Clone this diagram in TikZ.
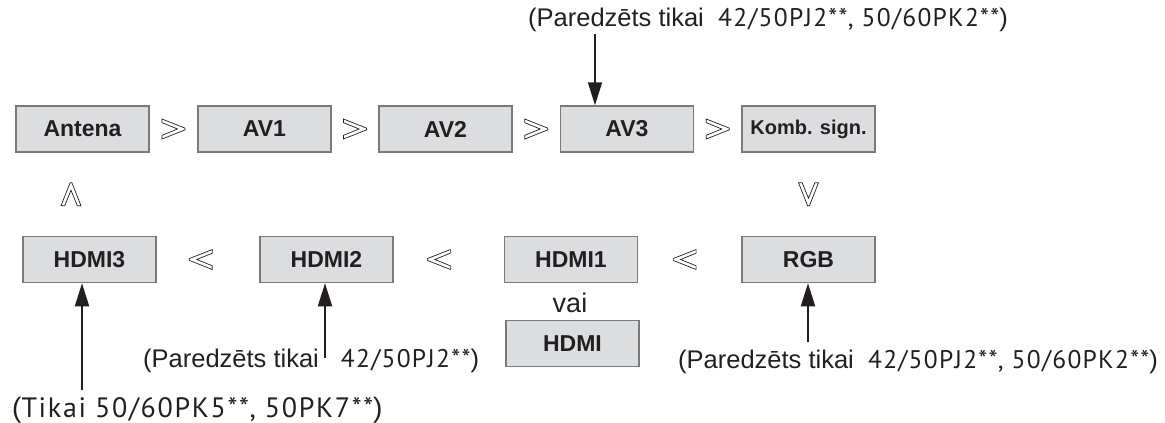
\documentclass[tikz,border=0pt]{standalone}
\usepackage{fontspec}
\setmainfont{Liberation Sans}
\newfontfamily\modelfont[LetterSpace=5]{PT Sans}
\newfontfamily\widemodelfont[LetterSpace=6]{PT Sans}
\usetikzlibrary{arrows.meta}
\definecolor{boxfill}{HTML}{DCDDDF}
\definecolor{boxline}{HTML}{7A7A7A}
\definecolor{ink}{HTML}{231F20}
\tikzset{
  srcbox/.style={draw=boxline, fill=boxfill, line width=1.5pt, minimum width=133pt,
    minimum height=46pt, inner sep=0pt, text=ink, font=\fontsize{23}{23}\selectfont\bfseries},
  pointer/.style={-{Triangle[length=23pt,width=14pt]}, line width=2pt, draw=ink},
  note/.style={inner sep=0pt, anchor=base west, text=ink, font=\fontsize{25.5}{25.5}\selectfont},
  chev/.pic={
    \draw[ink, line width=0.7pt, fill=white]
      (-11.5,-10) -- (11.5,-0.9) -- (11.5,0.9) -- (-11.5,10) -- (-11.5,6.3) -- (4,0) -- (-11.5,-6.3) -- cycle;
  },
}
\begin{document}
\begin{tikzpicture}[x=1pt, y=-1pt]
    \useasboundingbox (0,0) rectangle (1165,423);
    % top row
    \node[srcbox] (ant)  at (82.5,129) {Antena};
    \node[srcbox] (av1)  at (264.5,129) {AV1};
    \node[srcbox] (av2)  at (445.5,129) {AV2};
    \node[srcbox] (av3)  at (627,129) {AV3};
    \node[srcbox, font=\fontsize{20}{20}\selectfont\bfseries] (komb) at (808.5,129) {Komb. sign.};
    % bottom row
    \node[srcbox] (hdmi3) at (89.5,259.5) {HDMI3};
    \node[srcbox] (hdmi2) at (326.5,259.5) {HDMI2};
    \node[srcbox] (hdmi1) at (571,259.5) {HDMI1};
    \node[srcbox] (rgb)   at (808.5,259.5) {RGB};
    \node[inner sep=0pt, anchor=base, text=ink, font=\fontsize{27}{27}\selectfont] (vai) at (570,312) {vai};
    \node[srcbox] (hdmi)  at (572.5,343.5) {HDMI};
    % order of sources
    \path (ant.east) -- (av1.west) pic[midway, sloped, allow upside down] {chev};
    \path (av1.east) -- (av2.west) pic[midway, sloped, allow upside down] {chev};
    \path (av2.east) -- (av3.west) pic[midway, sloped, allow upside down] {chev};
    \path (av3.east) -- (komb.west) pic[midway, sloped, allow upside down] {chev};
    \path (komb.south) -- (rgb.north) pic[midway, sloped, allow upside down] {chev};
    \path (rgb.west) -- (hdmi1.east) pic[pos=0.55, sloped, allow upside down] {chev};
    \path (hdmi1.west) -- (hdmi2.east) pic[pos=0.59, sloped, allow upside down] {chev};
    \path (hdmi2.west) -- (hdmi3.east) pic[pos=0.57, sloped, allow upside down] {chev};
    \path ([xshift=-18.5pt]hdmi3.north) -- ([xshift=-11.5pt]ant.south) pic[midway, sloped, allow upside down] {chev};
    % notes
    \node[note] (n3) at (528,27) {(Paredzēts tikai\ \ {\modelfont 42/50PJ2**, 50/60PK2**})};
    \node[note] (nrgb) at (678,368) {(Paredzēts tikai\ \ {\modelfont 42/50PJ2**, 50/60PK2**})};
    \node[note] (nh2) at (143,367) {(Paredzēts tikai\hspace{22pt}{\modelfont 42/50PJ2**})};
    \node[note, font=\fontsize{28}{28}\selectfont] (nh3) at (12,417) {({\widemodelfont Tikai 50/60PK5**, 50PK7**})};
    \coordinate (t3) at (595,34);
    \coordinate (trgb) at (808,342);
    \coordinate (th2) at (325,358);
    \coordinate (th3) at (82,390);
    \draw[pointer] (t3) -- (t3 |- av3.north);
    \draw[pointer] (trgb) -- (trgb |- rgb.south);
    \draw[pointer] (th2) -- (th2 |- hdmi2.south);
    \draw[pointer] (th3) -- (th3 |- hdmi3.south);
\end{tikzpicture}
\end{document}
